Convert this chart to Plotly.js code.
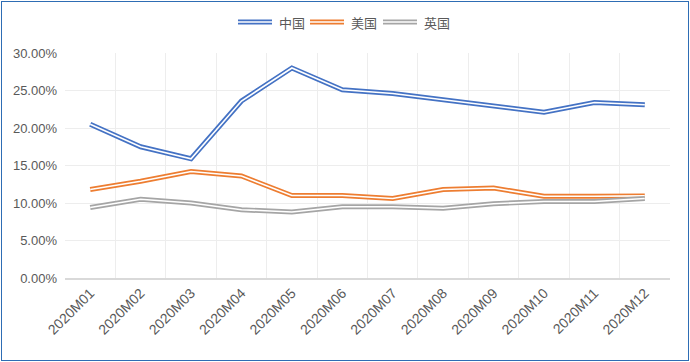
<!DOCTYPE html>
<html>
<head>
<meta charset="utf-8">
<script src="https://cdn.plot.ly/plotly-3.0.1.min.js"></script>
<style>
  html, body { margin: 0; padding: 0; background: #fff; }
  #wrap { position: relative; width: 690px; height: 362px; }
  #chart { position: absolute; left: 0; top: 0; width: 690px; height: 362px; }
  #frame { position: absolute; left: 1px; top: 1px; width: 686px; height: 358px; border: 1px solid #2E6DB4; pointer-events: none; }
</style>
</head>
<body>
<div id="wrap"><div id="chart"></div><div id="frame"></div></div>
<script>
const months = ["2020M01","2020M02","2020M03","2020M04","2020M05","2020M06","2020M07","2020M08","2020M09","2020M10","2020M11","2020M12"];
const seriesNames = ["中国","美国","英国"];
const china = [20.5, 17.5, 15.9, 23.6, 28.0, 25.1, 24.6, 23.8, 22.9, 22.1, 23.4, 23.1];
const usa   = [11.8, 12.9, 14.2, 13.6, 11.0, 11.0, 10.6, 11.8, 12.0, 10.9, 10.9, 10.95];
const uk    = [9.4, 10.5, 10.0, 9.1, 8.8, 9.5, 9.5, 9.3, 9.9, 10.2, 10.2, 10.6];
const colors = ["#4472C4", "#ED7D31", "#A5A5A5"];
const yTicks = [0, 5, 10, 15, 20, 25, 30];

const allSeries = [china, usa, uk];
const traces = [];
allSeries.forEach((vals, i) => {
  traces.push({ x: months, y: vals, type: "scatter", mode: "lines", name: seriesNames[i],
    line: { color: colors[i], width: 5 }, showlegend: false, hoverinfo: "skip" });
  traces.push({ x: months, y: vals, type: "scatter", mode: "lines", name: seriesNames[i],
    line: { color: "#ffffff", width: 1.6 }, showlegend: false, hoverinfo: "skip" });
});

// manual legend (double-line symbols)
const shapes = [];
const annotations = [];
const legX = [238, 310, 383];
seriesNames.forEach((n, i) => {
  const x0 = legX[i], x1 = legX[i] + 34;
  const y = 22;
  shapes.push({ type: "line", xref: "paper", yref: "paper",
    x0: (x0 - 65) / 605, x1: (x1 - 65) / 605, y0: (362 - 84 - y) / 225, y1: (362 - 84 - y) / 225,
    line: { color: colors[i], width: 5 } });
  shapes.push({ type: "line", xref: "paper", yref: "paper",
    x0: (x0 - 65) / 605, x1: (x1 - 65) / 605, y0: (362 - 84 - y) / 225, y1: (362 - 84 - y) / 225,
    line: { color: "#ffffff", width: 1.6 } });
  annotations.push({ xref: "paper", yref: "paper", x: (x1 + 5 - 65) / 605, y: (362 - 84 - y) / 225,
    xanchor: "left", yanchor: "middle", showarrow: false, text: n,
    font: { family: "Noto Sans CJK SC", size: 13, color: "#595959" } });
});

const layout = {
  width: 690, height: 362,
  margin: { l: 65, r: 20, t: 53, b: 84 },
  paper_bgcolor: "#ffffff", plot_bgcolor: "#ffffff",
  showlegend: false,
  font: { family: "Liberation Sans, Arial, sans-serif", size: 13, color: "#595959" },
  xaxis: {
    type: "category", tickson: "boundaries", showgrid: true, gridcolor: "#EDEDED", gridwidth: 1,
    tickangle: -45, ticks: "", showline: true, linecolor: "#D9D9D9", linewidth: 1.5,
    tickfont: { size: 14, color: "#595959" }, range: [-0.5, 11.5], zeroline: false
  },
  yaxis: {
    range: [0, 30], tickvals: yTicks, ticktext: yTicks.map(v => v.toFixed(2) + "%"),
    showgrid: true, gridcolor: "#EDEDED", gridwidth: 1, zeroline: false, ticks: "",
    showline: false, ticklabelstandoff: 7, tickfont: { size: 13, color: "#595959" }
  },
  shapes: shapes,
  annotations: annotations
};

Plotly.newPlot("chart", traces, layout, { staticPlot: true, displayModeBar: false });
</script>
</body>
</html>
